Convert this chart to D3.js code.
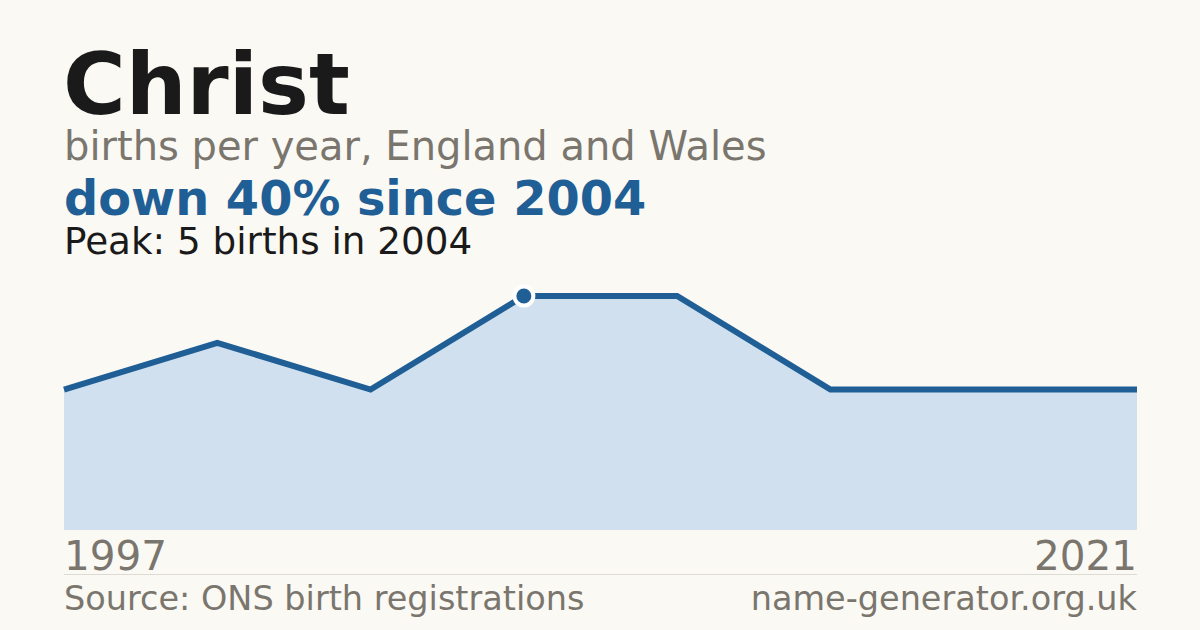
<!DOCTYPE html>
<html>
<head>
<meta charset="utf-8">
<script src="https://cdn.jsdelivr.net/npm/d3@7"></script>
<style>
  html, body { margin: 0; padding: 0; background: #faf9f4; }
  svg { display: block; font-family: "DejaVu Sans", sans-serif; }
</style>
</head>
<body>
<div id="chart"></div>
<script>
// name and headline text
var nameTitle = 'Christ';
var subtitle = 'births per year, England and Wales';
var headline = 'down 40% since 2004';
var peakNote = 'Peak: 5 births in 2004';
var sourceNote = 'Source: ONS birth registrations';
var siteNote = 'name-generator.org.uk';

// series: years with recorded births and counts
var years = [1997, 2000, 2002, 2004, 2007, 2010, 2015, 2021];
var births = [3, 4, 3, 5, 5, 3, 3, 3];
var peakYear = 2004;
var axisLabels = [1997, 2021];

var width = 1200, height = 630;
var margin = { left: 64, right: 63, top: 296, bottom: 100 };
var innerWidth = width - margin.left - margin.right,
    plotBottom = height - margin.bottom;

var svg = d3.select('#chart').append('svg')
  .attr('width', width)
  .attr('height', height);

svg.append('rect')
  .attr('width', width)
  .attr('height', height)
  .attr('fill', '#faf9f4');

var data = years.map(function(y, i) { return { year: y, value: births[i] }; });

var x = d3.scalePoint()
  .domain(years)
  .range([margin.left, margin.left + innerWidth]);

var y = d3.scaleLinear()
  .domain([0, d3.max(births)])
  .range([plotBottom, margin.top]);

// header text
svg.append('text')
  .attr('x', 63).attr('y', 114)
  .attr('font-size', 85.5).attr('font-weight', 'bold')
  .attr('fill', '#1a1a1a')
  .text(nameTitle);

svg.append('text')
  .attr('x', 64).attr('y', 160)
  .attr('font-size', 40)
  .attr('fill', '#7a766e')
  .text(subtitle);

svg.append('text')
  .attr('x', 64).attr('y', 215)
  .attr('font-size', 47.8).attr('font-weight', 'bold')
  .attr('fill', '#1f5f96')
  .text(headline);

svg.append('text')
  .attr('x', 64).attr('y', 254)
  .attr('font-size', 37.3)
  .attr('fill', '#1a1a1a')
  .text(peakNote);

// area + line
var area = d3.area()
  .x(function(d) { return x(d.year); })
  .y0(plotBottom)
  .y1(function(d) { return y(d.value); });

var line = d3.line()
  .x(function(d) { return x(d.year); })
  .y(function(d) { return y(d.value); });

svg.append('path')
  .datum(data)
  .attr('d', area)
  .attr('fill', '#d0e0ef');

svg.append('path')
  .datum(data)
  .attr('d', line)
  .attr('fill', 'none')
  .attr('stroke', '#1f5f96')
  .attr('stroke-width', 6)
  .attr('stroke-linejoin', 'miter');

var peak = data.filter(function(d) { return d.year === peakYear; })[0];
svg.append('circle')
  .attr('cx', x(peak.year))
  .attr('cy', y(peak.value))
  .attr('r', 9.5)
  .attr('fill', '#1f5f96')
  .attr('stroke', '#ffffff')
  .attr('stroke-width', 4);

// axis end labels
svg.selectAll('.yearLabel')
  .data(axisLabels)
  .enter()
  .append('text')
  .attr('class', 'yearLabel')
  .attr('x', function(d) { return x(d); })
  .attr('y', 570)
  .attr('text-anchor', function(d, i) { return i === 0 ? 'start' : 'end'; })
  .attr('font-size', 40.5)
  .attr('fill', '#7a766e')
  .text(function(d) { return d; });

svg.append('line')
  .attr('x1', margin.left).attr('x2', margin.left + innerWidth)
  .attr('y1', 574.5).attr('y2', 574.5)
  .attr('stroke', '#dedbd4')
  .attr('stroke-width', 1);

svg.append('text')
  .attr('x', 64).attr('y', 610)
  .attr('font-size', 33.5)
  .attr('fill', '#7a766e')
  .text(sourceNote);

svg.append('text')
  .attr('x', margin.left + innerWidth).attr('y', 610)
  .attr('text-anchor', 'end')
  .attr('font-size', 33.5)
  .attr('fill', '#7a766e')
  .text(siteNote);
</script>
</body>
</html>
